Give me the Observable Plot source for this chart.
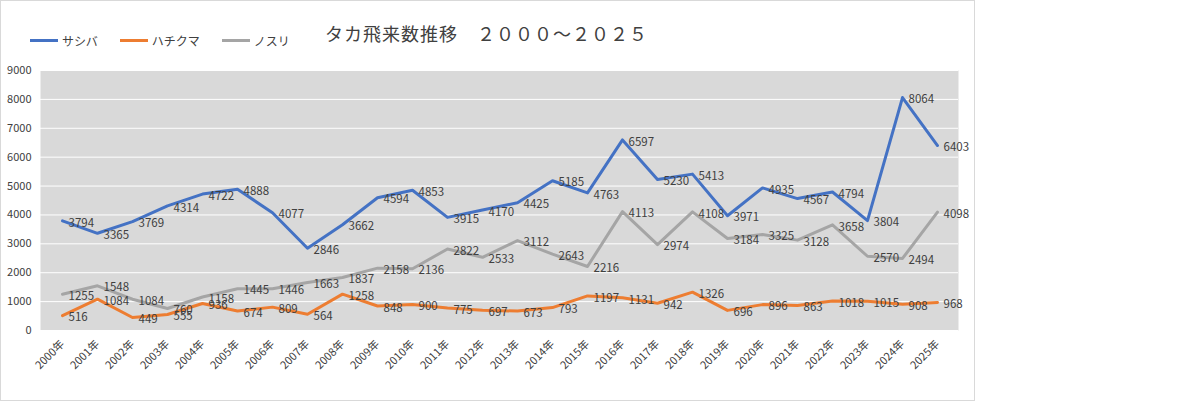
<!DOCTYPE html>
<html><head><meta charset="utf-8">
<script src="https://cdn.jsdelivr.net/npm/d3@7"></script>
<script src="https://cdn.jsdelivr.net/npm/@observablehq/plot@0.6"></script>
<style>
body{margin:0;background:#fff;font-family:"Noto Sans CJK JP","Noto Sans",sans-serif;}
#wrap{position:relative;width:1184px;height:403px;}
#box{position:absolute;left:0;top:0;width:975px;height:401px;border:1px solid #d9d9d9;box-sizing:border-box;}
#title{position:absolute;left:325px;top:20px;font-size:18px;color:#404040;letter-spacing:1px;}
#legend{position:absolute;left:30px;top:32px;font-size:12px;color:#404040;display:flex;gap:22px;}
#legend span{display:flex;align-items:center;gap:4px;}
#legend i{display:inline-block;width:28px;height:3px;}
#chart{position:absolute;left:0;top:55px;}
</style></head><body>
<div id="wrap"><div id="box"></div>
<div id="title">タカ飛来数推移　２０００～２０２５</div>
<div id="legend"><span><i style="background:#4472c4"></i>サシバ</span><span><i style="background:#ed7d31"></i>ハチクマ</span><span><i style="background:#a5a5a5"></i>ノスリ</span></div>
<div id="chart"></div></div>
<script>
const years = d3.range(2000,2026).map(y=>y+"年");
const sashiba = [3794,3365,3769,4314,4722,4888,4077,2846,3662,4594,4853,3915,4170,4425,5185,4763,6597,5230,5413,3971,4935,4567,4794,3804,8064,6403];
const hachikuma = [516,1084,449,555,936,674,809,564,1258,848,900,775,697,673,793,1197,1131,942,1326,696,896,863,1018,1015,908,968];
const nosuri = [1255,1548,1084,760,1158,1445,1446,1663,1837,2158,2136,2822,2533,3112,2643,2216,4113,2974,4108,3184,3325,3128,3658,2570,2494,4098];
const seriesNames = ["サシバ","ハチクマ","ノスリ"];
const colors = ["#4472c4","#ed7d31","#a5a5a5"];
const data = [];
[sashiba,hachikuma,nosuri].forEach((arr,i)=>arr.forEach((v,j)=>data.push({year:years[j],value:v,s:seriesNames[i]})));
const chart = Plot.plot({
  width:1184,height:348,marginLeft:40,marginRight:226,marginTop:15,marginBottom:73,
  style:{fontFamily:"Noto Sans CJK JP, sans-serif",fontSize:"11px",color:"#404040"},
  x:{type:"point",domain:years,padding:0.5,label:null,tickRotate:-45,tickSize:0},
  y:{domain:[0,9000],ticks:d3.range(0,9001,1000),label:null,tickSize:0,tickFormat:d=>String(d)},
  color:{domain:seriesNames,range:colors},
  marks:[
    Plot.frame({fill:"#d9d9d9",stroke:null}),
    Plot.gridY({ticks:d3.range(0,9001,1000),stroke:"#fff",strokeOpacity:1}),
    Plot.lineY(data,{x:"year",y:"value",z:"s",stroke:"s",strokeWidth:3}),
    Plot.text(data,{x:"year",y:"value",text:d=>String(d.value),dx:6,dy:2,textAnchor:"start",fill:"#404040",fontSize:11.5})
  ]
});
document.getElementById("chart").append(chart);
</script></body></html>
